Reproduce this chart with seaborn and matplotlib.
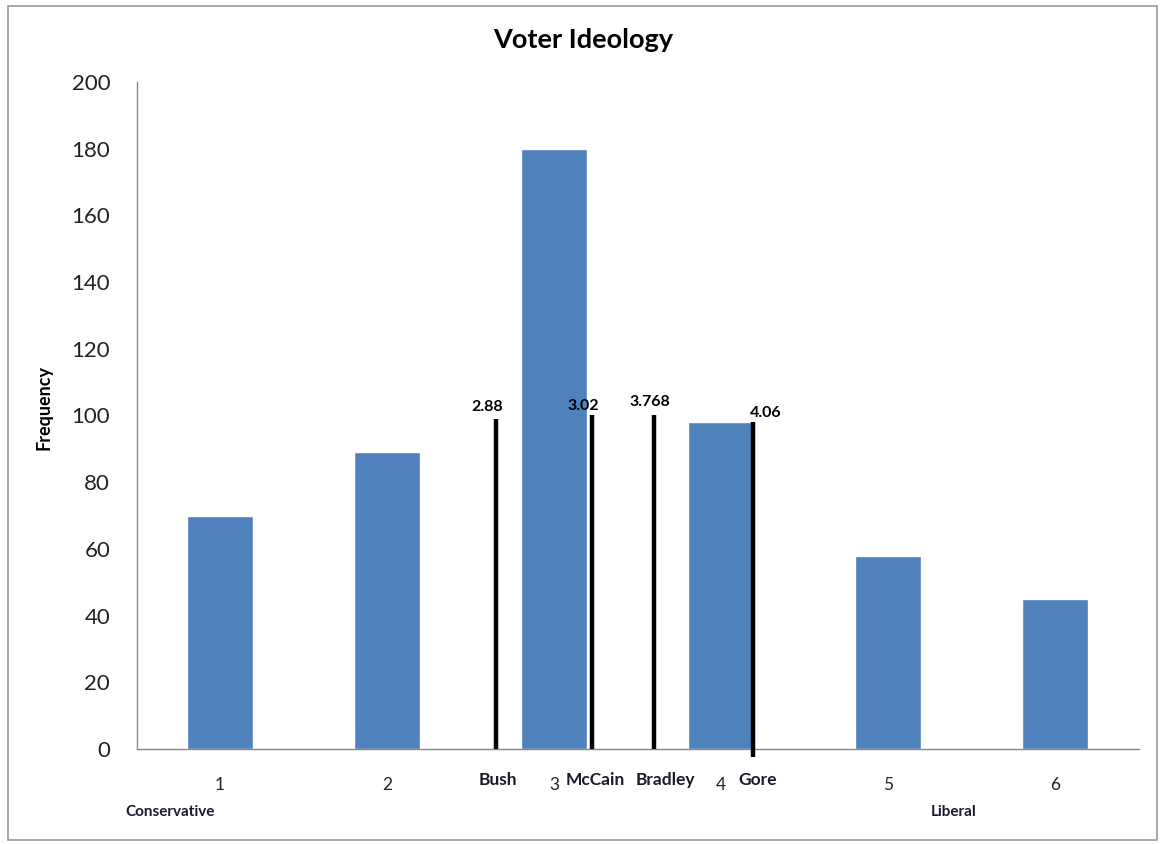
import matplotlib
matplotlib.use("Agg")
import matplotlib.pyplot as plt
import seaborn as sns
import pandas as pd
from matplotlib.patches import Rectangle

# ---- data ----
categories = ["1", "2", "3", "4", "5", "6"]
frequency = [70, 89, 180, 98, 58, 45]

candidates = ["Bush", "McCain", "Bradley", "Gore"]
candidate_means = ["2.88", "3.02", "3.768", "4.06"]
# where each marker line sits on the category axis (category index units, as drawn)
line_pos = [1.653, 2.229, 2.601, 3.190]
line_top = [99, 100, 100, 98]
line_bottom = [0, 0, 0, -2.3]
# where the labels sit (category index units / frequency units)
name_pos = [1.665, 2.245, 2.665, 3.221]
mean_pos = [1.601, 2.178, 2.573, 3.268]
mean_y = [102.5, 102.8, 104.0, 100.7]

y_ticks = [0, 20, 40, 60, 80, 100, 120, 140, 160, 180, 200]

sns.set_theme(style="white")
plt.rcParams["font.family"] = ["Lato", "DejaVu Sans"]

fig = plt.figure(figsize=(11.66, 8.44), dpi=100)
ax = fig.add_axes([0.1171, 0.1126, 0.8594, 0.7903])

df = pd.DataFrame({"cat": categories, "freq": frequency})
sns.barplot(data=df, x="cat", y="freq", color="#4F81BD", saturation=1,
            width=0.4, ax=ax, zorder=2)

ax.set_xlim(-0.5, 5.5)
ax.set_ylim(0, 200)
ax.set_yticks(y_ticks)
ax.set_yticklabels([str(v) for v in y_ticks], fontsize=16, color="#222222")

# category tick labels at centers, tick marks at boundaries
ax.set_xticks(range(len(categories)))
ax.set_xticklabels(categories, fontsize=12.5, color="#222222")
ax.tick_params(axis="x", which="major", length=0, pad=20)
ax.set_xticks([i - 0.5 for i in range(len(categories) + 1)], minor=True)
ax.tick_params(axis="x", which="minor", length=6, width=1, color="#888888", direction="out")
ax.tick_params(axis="y", which="major", length=7, width=1, color="#888888", direction="out", pad=12)

for s in ["top", "right"]:
    ax.spines[s].set_visible(False)
for s in ["left", "bottom"]:
    ax.spines[s].set_color("#888888")
    ax.spines[s].set_linewidth(1)

ax.set_xlabel("")
ax.set_ylabel("")
fig.text(44 / 1166, 1 - 407 / 844, "Frequency", rotation=90, ha="center", va="center",
         fontsize=13, fontweight="bold", color="black")
fig.text(583 / 1166, 1 - 40 / 844, "Voter Ideology", ha="center", va="center",
         fontsize=19.5, fontweight="bold", color="black")

# candidate lines + labels
for name, mean, x, top, bot, nx, mx, my in zip(candidates, candidate_means, line_pos,
                                                line_top, line_bottom, name_pos,
                                                mean_pos, mean_y):
    ax.plot([x, x], [bot, top], color="black", lw=3.2, zorder=4, clip_on=False,
            solid_capstyle="butt")
    ax.text(mx, my, mean, ha="center", va="center", fontsize=11.5,
            fontweight="bold", color="black", zorder=5)
    ax.text(nx, -9.3, name, ha="center", va="center", fontsize=12.5,
            fontweight="bold", color="#1a1a2e", clip_on=False)

ax.text(-0.3, -19, "Conservative", ha="center", va="center", fontsize=11,
        fontweight="bold", color="#1a1a2e", clip_on=False)
ax.text(4.39, -19, "Liberal", ha="center", va="center", fontsize=11,
        fontweight="bold", color="#1a1a2e", clip_on=False)

# chart border
fig.patches.append(Rectangle((8 / 1166, 4 / 844), 1149 / 1166, 834 / 844,
                             transform=fig.transFigure, fill=False,
                             edgecolor="#999999", lw=1.2))

fig.savefig("out.png", dpi=100)
